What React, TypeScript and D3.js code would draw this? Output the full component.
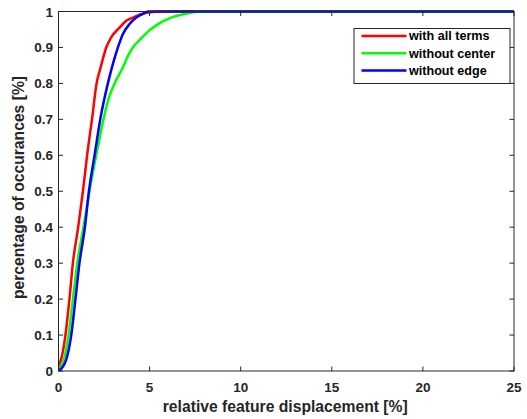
import React from "react";
import * as d3 from "d3";

const xTicks = [0, 5, 10, 15, 20, 25];
const yTicks = [0, 0.1, 0.2, 0.3, 0.4, 0.5, 0.6, 0.7, 0.8, 0.9, 1];

const withAllTerms: [number, number][] = [
  [0, 0.01], [0.04, 0.017], [0.18, 0.04], [0.38, 0.1], [0.6, 0.2], [0.79, 0.3],
  [1.08, 0.4], [1.34, 0.5], [1.57, 0.6], [1.85, 0.705], [2.09, 0.8], [2.31, 0.844],
  [2.62, 0.9], [2.89, 0.928], [3.35, 0.955], [3.72, 0.974], [4.18, 0.985],
  [4.6, 0.994], [5.3, 0.999], [6, 1], [25, 1],
];
const withoutCenter: [number, number][] = [
  [0, 0.005], [0.11, 0.012], [0.29, 0.031], [0.55, 0.1], [0.79, 0.2], [1.03, 0.3],
  [1.37, 0.4], [1.7, 0.5], [2.07, 0.6], [2.49, 0.705], [2.71, 0.751], [3.08, 0.8],
  [3.53, 0.844], [3.77, 0.872], [4.08, 0.9], [4.5, 0.923], [4.96, 0.946],
  [5.46, 0.965], [6.19, 0.983], [6.92, 0.993], [7.84, 1], [25, 1],
];
const withoutEdge: [number, number][] = [
  [0, 0], [0.24, 0.012], [0.42, 0.031], [0.7, 0.1], [0.93, 0.2], [1.15, 0.3],
  [1.45, 0.4], [1.67, 0.5], [1.98, 0.6], [2.31, 0.705], [2.71, 0.8], [2.93, 0.844],
  [3.26, 0.9], [3.53, 0.937], [3.9, 0.965], [4.27, 0.983], [4.63, 0.993],
  [4.9, 1], [25, 1],
];

const seriesNames = ["with all terms", "without center", "without edge"];
const seriesColors = ["#ff0000", "#00ff00", "#0000ff"];
const seriesData = [withAllTerms, withoutCenter, withoutEdge];

export default function App() {
  const width = 527;
  const height = 419;
  const m = { left: 58.5, right: 514, top: 11.5, bottom: 371 };
  const x = d3.scaleLinear().domain([0, 25]).range([m.left, m.right]);
  const y = d3.scaleLinear().domain([0, 1]).range([m.bottom, m.top]);
  const line = d3
    .line<[number, number]>()
    .x(d => x(d[0]))
    .y(d => y(d[1]))
    .curve(d3.curveMonotoneX);
  const axisColor = "#262626";
  const font = "'Liberation Sans', Arial, sans-serif";
  const tk = 4.5;

  return (
    <svg
      width={width}
      height={height}
      style={{ position: "absolute", left: 0, top: 0 }}
      fontFamily={font}
    >
      <rect width={width} height={height} fill="#fff" />
      <defs>
        <clipPath id="plot">
          <rect x={m.left} y={m.top - 2} width={m.right - m.left} height={m.bottom - m.top + 2} />
        </clipPath>
      </defs>
      {seriesData.map((d, i) => (
        <path
          key={i}
          d={line(d) || ""}
          fill="none"
          stroke={seriesColors[i]}
          strokeWidth={2.5}
          strokeLinejoin="round"
          clipPath="url(#plot)"
        />
      ))}
      <rect
        x={m.left}
        y={m.top}
        width={m.right - m.left}
        height={m.bottom - m.top}
        fill="none"
        stroke={axisColor}
        strokeWidth={1}
      />
      {xTicks.map(t => (
        <g key={"x" + t}>
          <line x1={x(t)} x2={x(t)} y1={m.bottom} y2={m.bottom - tk} stroke={axisColor} />
          <line x1={x(t)} x2={x(t)} y1={m.top} y2={m.top + tk} stroke={axisColor} />
          <text
            x={x(t)}
            y={m.bottom + 21}
            textAnchor="middle"
            fontSize={13.5}
            fontWeight="bold"
            fill={axisColor}
          >
            {t}
          </text>
        </g>
      ))}
      {yTicks.map(t => (
        <g key={"y" + t}>
          <line x1={m.left} x2={m.left + tk} y1={y(t)} y2={y(t)} stroke={axisColor} />
          <line x1={m.right} x2={m.right - tk} y1={y(t)} y2={y(t)} stroke={axisColor} />
          <text
            x={m.left - 5.5}
            y={y(t) + 5}
            textAnchor="end"
            fontSize={13.5}
            fontWeight="bold"
            fill={axisColor}
          >
            {t === 0 || t === 1 ? t : t.toFixed(1)}
          </text>
        </g>
      ))}
      <text
        x={(m.left + m.right) / 2 - 1}
        y={412}
        textAnchor="middle"
        fontSize={15.7}
        fontWeight="bold"
        fill={axisColor}
      >
        relative feature displacement [%]
      </text>
      <text
        transform={`translate(24 ${187.5}) rotate(-90)`}
        textAnchor="middle"
        fontSize={15.7}
        fontWeight="bold"
        fill={axisColor}
      >
        percentage of occurances [%]
      </text>
      <g>
        <rect x={354} y={28.5} width={156} height={55} fill="#fff" stroke={axisColor} strokeWidth={1} />
        {seriesNames.map((n, i) => {
          const ly = 36 + i * 17.2;
          return (
            <g key={n}>
              <line x1={361.5} x2={406.5} y1={ly} y2={ly} stroke={seriesColors[i]} strokeWidth={2.5} />
              <text x={409} y={ly + 4.3} fontSize={12.6} fontWeight="bold" fill="#000">
                {n}
              </text>
            </g>
          );
        })}
      </g>
    </svg>
  );
}
